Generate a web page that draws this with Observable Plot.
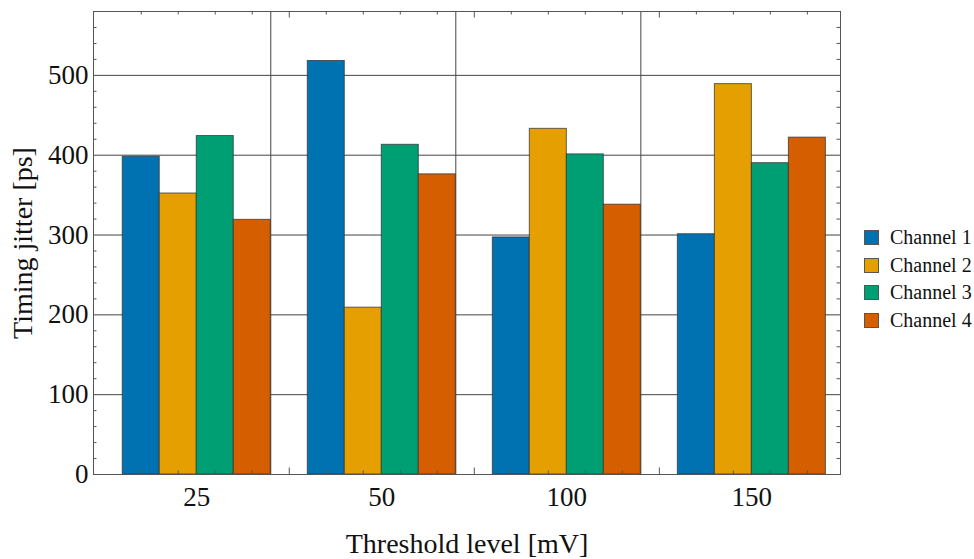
<!DOCTYPE html>
<html>
<head>
<meta charset="utf-8">
<script src="https://cdn.jsdelivr.net/npm/d3@7"></script>
<script src="https://cdn.jsdelivr.net/npm/@observablehq/plot@0.6"></script>
<style>
  html, body { margin: 0; padding: 0; background: #fff; }
  #wrap { position: relative; width: 974px; height: 559px; font-family: 'Liberation Serif', serif; }
  #legend { position: absolute; left: 864px; top: 224px; }
  .item { display: flex; align-items: center; height: 27.5px; font-size: 20px; color: #111; }
  .sw { width: 13px; height: 13px; border: 1px solid #555; margin-right: 11px; box-sizing: content-box; }
</style>
</head>
<body>
<div id="wrap"><div id="chart"></div><div id="legend"></div></div>
<script>
const thresholds = ["25", "50", "100", "150"];
const channels = ["Channel 1", "Channel 2", "Channel 3", "Channel 4"];
const ch1 = [398, 518, 297, 301];
const ch2 = [352, 209, 433, 489];
const ch3 = [424, 413, 401, 390];
const ch4 = [319, 376, 338, 422];
const colors = ["#0072B2", "#E69F00", "#009E73", "#D55E00"];
const yTicks = [0, 100, 200, 300, 400, 500];
const xTitle = "Threshold level [mV]";
const yTitle = "Timing jitter [ps]";

const series = [ch1, ch2, ch3, ch4];
const barW = 0.2;
const rows = [];
thresholds.forEach((t, i) => {
  series.forEach((s, j) => {
    const x1 = i + 1 + (j - 2) * barW;
    rows.push({threshold: t, channel: channels[j], value: s[i], x1, x2: x1 + barW, xc: x1 + barW / 2});
  });
});
const groupPos = thresholds.map((t, i) => i + 1);
const barCenters = rows.map(d => d.xc);
const groupGaps = thresholds.slice(1).map((t, i) => i + 1.5);
const groupRightEdges = thresholds.slice(0, -1).map((t, i) => i + 1 + 2 * barW);
const yMinor = d3.range(0, 581, 20).filter(v => v % 100 !== 0);

const W = 974, H = 559, mL = 93, mR = 134, mT = 11, mB = 85;
const pw = W - mL - mR, ph = H - mT - mB;
const grid = "#454545";

const chart = Plot.plot({
  width: W, height: H,
  marginLeft: mL, marginRight: mR, marginTop: mT, marginBottom: mB,
  style: {fontFamily: "'Liberation Serif', serif", fontSize: "27px", color: "#111", background: "#fff"},
  x: {type: "linear", domain: [0.442, 4.479], axis: null, label: null},
  y: {domain: [0, 580], axis: null, label: null},
  color: {domain: channels, range: colors},
  marks: [
    Plot.ruleY(yTicks.filter(v => v > 0), {stroke: grid, strokeWidth: 1}),
    Plot.ruleX(groupRightEdges, {stroke: grid, strokeWidth: 1}),
    Plot.rectY(rows, {x1: "x1", x2: "x2", y: "value", fill: "channel", stroke: "#333", strokeOpacity: 0.75, strokeWidth: 1}),
    // inner minor ticks, left and right
    Plot.ruleY(yMinor, {stroke: "#555", insetRight: pw - 3.5}),
    Plot.ruleY(yMinor, {stroke: "#555", insetLeft: pw - 3.5}),
    // inner ticks, top and bottom
    Plot.ruleX(barCenters, {stroke: "#555", insetBottom: ph - 3.5}),
    Plot.ruleX(barCenters, {stroke: "#555", insetTop: ph - 3.5}),
    Plot.ruleX(groupGaps, {stroke: "#555", insetBottom: ph - 6.5}),
    Plot.ruleX(groupGaps, {stroke: "#555", insetTop: ph - 6.5}),
    Plot.frame({stroke: "#555", strokeWidth: 1}),
    Plot.axisY(yTicks, {tickSize: 0, tickPadding: 5, fontSize: 27, label: null}),
    Plot.axisX(groupPos, {tickSize: 0, tickPadding: 12, fontSize: 27, label: null, tickFormat: d => thresholds[d - 1]}),
    Plot.text([xTitle], {frameAnchor: "bottom", text: d => d, textAnchor: "middle", lineAnchor: "top", dy: 59, fontSize: 28}),
    Plot.text([yTitle], {frameAnchor: "left", text: d => d, rotate: -90, textAnchor: "middle", lineAnchor: "middle", dx: -70, fontSize: 28})
  ]
});
document.getElementById("chart").appendChild(chart);

const legend = document.getElementById("legend");
channels.forEach((c, i) => {
  const it = document.createElement("div");
  it.className = "item";
  const sw = document.createElement("span");
  sw.className = "sw";
  sw.style.background = colors[i];
  const tx = document.createElement("span");
  tx.textContent = c;
  it.appendChild(sw);
  it.appendChild(tx);
  legend.appendChild(it);
});
</script>
</body>
</html>
